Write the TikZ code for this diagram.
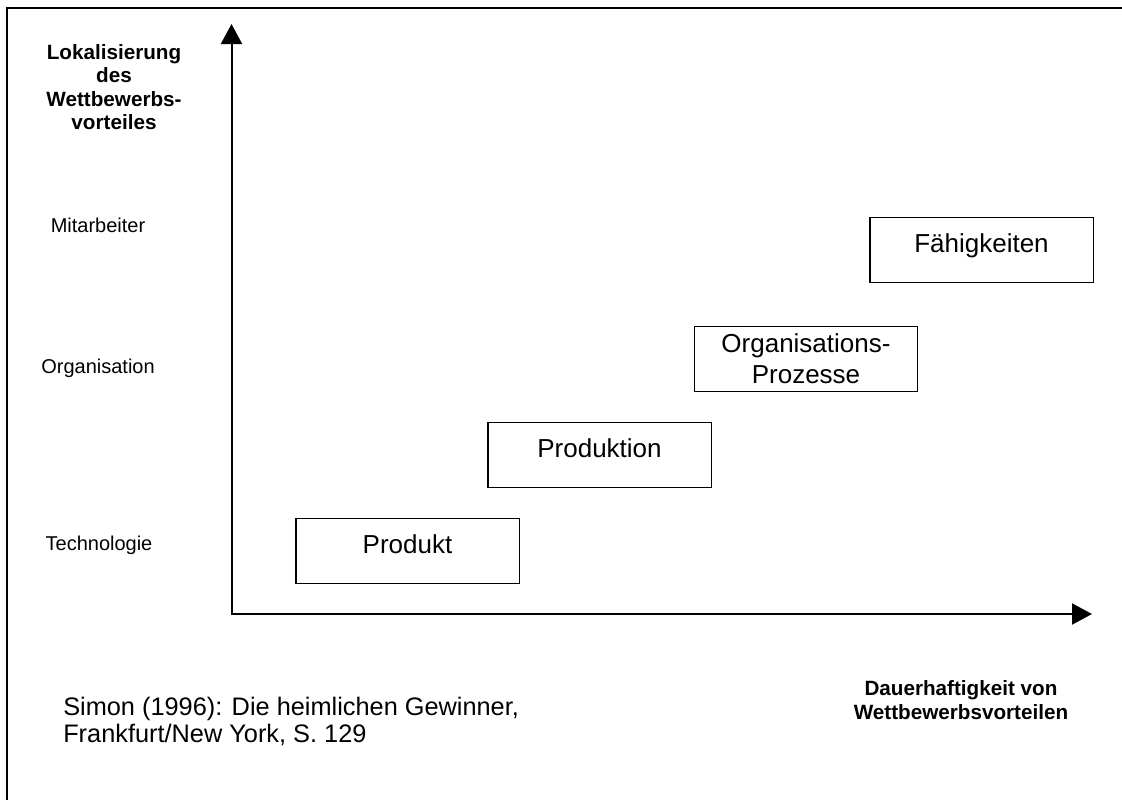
\documentclass[tikz,border=0pt]{standalone}
\usepackage{fontspec}
\setmainfont{Liberation Sans}
\usetikzlibrary{arrows.meta}
\begin{document}
\begin{tikzpicture}[x=0.75pt,y=-0.75pt,
  framestyle/.style={line width=1.7pt,line cap=rect,line join=miter},
  axisstyle/.style={line width=1.5pt,line join=miter,
    {Triangle[length=15pt,width=15.75pt]}-{Triangle[length=15pt,width=15.75pt]}},
  stepbox/.style={draw,line width=1.1pt,minimum width=167.6pt,minimum height=48.4pt,
    inner sep=0pt,font=\fontsize{19.5}{23.5}\selectfont,align=center},
  onebox/.style={stepbox,text height=14pt,text depth=10pt},
  levellabel/.style={inner sep=0pt,font=\fontsize{15}{18}\selectfont},
  boldlabel/.style={inner sep=0pt,align=center,font=\bfseries\fontsize{15.5}{17.5}\selectfont},
  sourcelabel/.style={inner sep=0pt,align=left,font=\fontsize{19}{20.25}\selectfont}]
\useasboundingbox (0,0) rectangle (1122,800);
\fill[white] (0,0) rectangle (1122,800);
% frame (cropped)
\draw[framestyle] (7.2,800) -- (7.2,7.8) -- (1122,7.8);
% axes
\coordinate (O) at (231.5,614);
\coordinate (ytop) at (231.5,24);
\coordinate (xend) at (1092,614);
\draw[axisstyle] (ytop) -- (O) -- (xend);
% axis title
\node[boldlabel] (ytitle) at (114,87) {Lokalisierung\\des\\Wettbewerbs-\\vorteiles};
\node[boldlabel] (xtitle) at (961,700) {Dauerhaftigkeit von\\Wettbewerbsvorteilen};
% levels
\node[levellabel] (mit) at (98,225) {Mitarbeiter};
\node[levellabel] (org) at (98,368) {Organisation};
\node[levellabel] (tec) at (99,545) {Technologie};
% boxes
\node[onebox] (produkt) at (407.5,551) {Produkt};
\node[onebox] (produktion) at (599.5,455) {Produktion};
\node[stepbox] (prozesse) at (806,359) {Organisations-\\Prozesse};
\node[onebox] (faehig) at (981.5,250) {Fähigkeiten};
% source
\node[sourcelabel,anchor=west] (source) at (63,721.5) {Simon (1996): Die heimlichen Gewinner,\\Frankfurt/New York, S. 129};
\end{tikzpicture}
\end{document}
